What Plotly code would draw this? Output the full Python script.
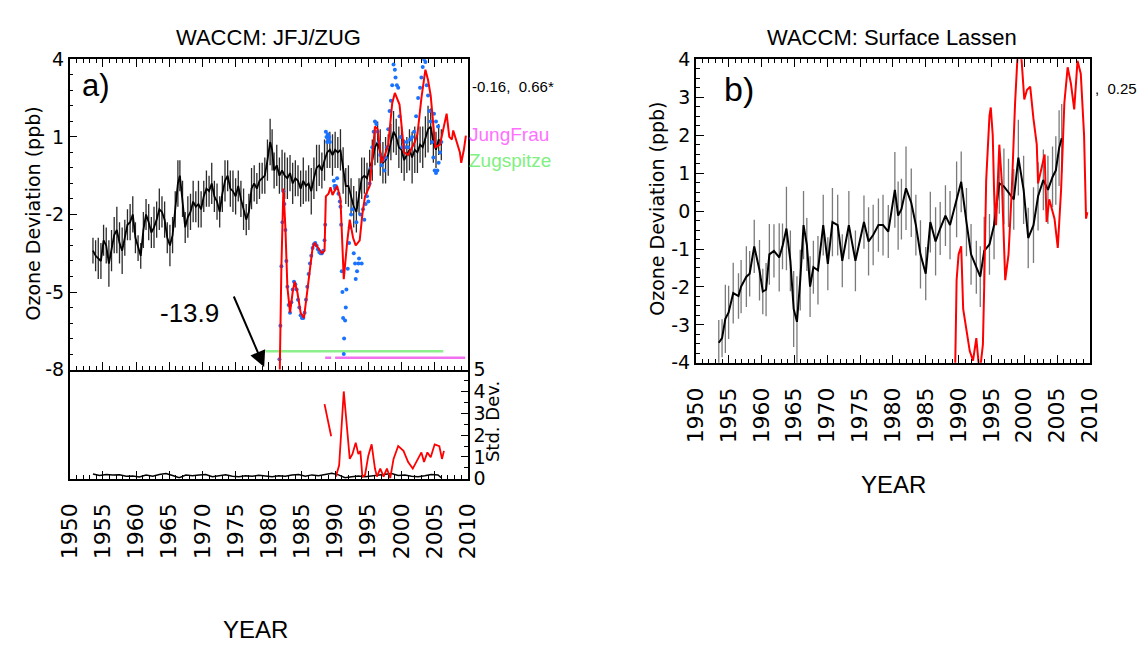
import plotly.graph_objects as go

# ---------------- data: panel a (JFJ/ZUG) ----------------
a_year = [1953.5, 1953.9, 1954.3, 1954.7, 1955.1, 1955.5, 1955.9, 1956.3, 1956.7, 1957.1, 1957.5, 1957.9,
          1958.3, 1958.7, 1959.1, 1959.5, 1959.9, 1960.3, 1960.7, 1961.1, 1961.5, 1961.9, 1962.3, 1962.7,
          1963.1, 1963.5, 1963.9, 1964.3, 1964.7, 1965.1, 1965.5, 1965.9, 1966.3, 1966.6, 1967.0, 1967.4,
          1967.8, 1968.2, 1968.6, 1969.0, 1969.4, 1969.8, 1970.2, 1970.6, 1971.0, 1971.4, 1971.8, 1972.2,
          1972.6, 1973.0, 1973.4, 1973.8, 1974.2, 1974.6, 1975.0, 1975.4, 1975.8, 1976.2, 1976.6, 1977.0,
          1977.4, 1977.8, 1978.2, 1978.6, 1979.0, 1979.4, 1979.8, 1980.2, 1980.5, 1980.8, 1981.2, 1981.6,
          1982.0, 1982.4, 1982.8, 1983.2, 1983.6, 1984.0, 1984.4, 1984.8, 1985.2, 1985.6, 1986.0, 1986.4,
          1986.8, 1987.2, 1987.6, 1988.0, 1988.4, 1988.8, 1989.2, 1989.6, 1990.0, 1990.4, 1990.8, 1991.2,
          1991.6, 1992.0, 1992.4, 1992.8, 1993.2, 1993.6, 1994.0, 1994.4, 1994.8, 1995.2, 1995.6, 1996.0,
          1996.4, 1996.8, 1997.2, 1997.6, 1998.0, 1998.4, 1998.8, 1999.2, 1999.6, 2000.0, 2000.4, 2000.8,
          2001.2, 2001.6, 2002.0, 2002.4, 2002.8, 2003.2, 2003.6, 2004.0, 2004.4, 2004.8, 2005.2, 2005.6, 2006.0]
a_model = [-3.4, -3.6, -3.7, -3.8, -3.0, -3.2, -3.9, -3.4, -2.8, -2.6, -3.1, -3.4,
           -2.9, -2.4, -2.3, -2.0, -2.9, -3.3, -3.6, -2.6, -2.0, -2.3, -2.7, -2.5,
           -2.2, -1.8, -1.9, -2.2, -2.9, -3.2, -2.8, -1.8, -0.8, -0.5, -1.4, -2.5,
           -2.1, -1.9, -1.5, -1.7, -1.6, -1.8, -1.3, -1.0, -1.1, -0.8, -1.3, -1.5,
           -1.9, -1.2, -0.7, -0.5, -1.0, -1.1, -1.3, -0.9, -1.4, -1.8, -2.2, -1.9,
           -1.0, -0.8, -1.0, -0.7, -0.6, -0.5, 0.1, 0.8, 0.5, -0.3, -0.1, -0.5,
           -0.3, -0.5, -0.6, -0.4, -0.8, -0.6, -0.7, -1.0, -0.7, -0.9, -0.8, -1.1,
           -0.6, -0.2, -0.1, -0.3, 0.1, 0.4, 0.5, 0.3, 0.5, 0.4, 0.5, -0.3,
           -0.9, -0.9, -1.3, -1.7, -1.9, -1.3, -0.6, -0.5, -0.6, -0.2, 0.1, 0.6,
           0.8, 0.4, 0.0, 0.1, 0.3, 0.8, 1.2, 1.0, 0.6, 0.5, 0.1, 0.3,
           0.5, 0.2, 0.5, 0.4, 0.7, 0.6, 1.0, 1.3, 1.4, 0.8, 0.5, 0.9, 0.7]
a_err = [0.5, 0.6, 0.8, 0.7, 0.6, 0.7, 0.9, 0.8, 0.7, 0.9, 0.8, 0.9,
         0.7, 0.6, 0.7, 0.7, 0.6, 0.5, 0.5, 0.7, 0.6, 0.7, 0.6, 0.8,
         0.7, 0.8, 0.6, 0.7, 0.6, 0.8, 0.7, 0.7, 0.9, 0.6, 0.7, 0.6,
         0.8, 0.7, 0.8, 0.6, 0.9, 0.7, 0.6, 0.7, 0.6, 0.8, 0.6, 0.7,
         0.6, 0.7, 0.8, 0.6, 0.7, 0.8, 0.7, 0.6, 0.7, 0.8, 0.6, 0.7,
         0.8, 0.7, 0.6, 0.7, 0.6, 0.7, 0.8, 0.9, 0.8, 0.7, 0.8, 0.7,
         0.8, 0.9, 0.8, 0.7, 0.8, 0.7, 0.6, 0.7, 0.9, 0.6, 0.7, 0.9,
         0.8, 0.9, 0.8, 0.7, 0.8, 0.6, 0.7, 0.8, 0.7, 0.6, 0.8, 0.9,
         0.7, 0.8, 0.7, 0.8, 0.8, 0.7, 0.8, 0.7, 0.6, 0.7, 0.8, 0.7,
         0.8, 0.9, 0.8, 0.9, 0.8, 0.7, 0.8, 0.7, 0.8, 0.9, 0.8, 0.7,
         0.8, 1.0, 0.9, 0.8, 0.7, 0.8, 0.8, 0.9, 0.7, 0.8, 0.7, 0.6, 0.6]

a_obs_year = [1981.3, 1981.7, 1981.9, 1982.2, 1982.5, 1982.8, 1983.2, 1983.6, 1983.9, 1984.3, 1984.8,
              1985.3, 1985.7, 1986.2, 1986.6, 1986.9, 1987.4, 1988.0, 1988.4, 1988.6, 1989.0, 1989.3,
              1989.6, 1990.3, 1990.8, 1991.3, 1991.8, 1992.2, 1992.7, 1993.1, 1993.7, 1994.1, 1994.5,
              1995.2, 1995.6, 1996.0, 1996.4, 1997.0, 1997.5, 1998.0, 1998.6, 1999.0, 1999.7, 2000.4,
              2001.0, 2001.4, 2002.0, 2002.4, 2003.0, 2003.6, 2004.0, 2004.4, 2005.1, 2005.8, 2006.3,
              2006.8, 2007.2, 2007.6, 2007.8, 2008.3, 2008.8, 2009.0, 2009.4, 2009.7]
a_obs = [-13.9, -7.0, -4.0, -1.0, -2.5, -4.8, -5.8, -5.0, -4.6, -5.0, -5.8,
         -6.0, -5.2, -4.0, -3.3, -3.1, -3.3, -3.5, -3.4, -1.3, -1.2, -0.95,
         -1.25, -0.9, -1.4, -4.5, -3.1, -2.2, -2.9, -3.2, -3.0, -2.0, -1.3,
         -0.9, 0.2, 1.4, 1.3, 0.0, 0.3, 0.7, 2.3, 2.7, 2.25, 0.4,
         0.3, 0.5, 0.8, 1.1, 2.5, 3.6, 3.2, 2.6, 0.6, 0.7, 1.3,
         1.9, 1.0, 0.9, 1.25, 0.8, 0.4, 0.0, 0.5, 1.05]

a_dot_year = [1981.6, 1981.75, 1981.9, 1982.05, 1982.2, 1982.35, 1982.5, 1982.65, 1982.8, 1983.0, 1983.2,
              1983.4, 1983.6, 1983.8, 1984.0, 1984.2, 1984.4, 1984.6, 1984.8, 1985.0, 1985.2, 1985.4,
              1985.6, 1985.8, 1986.0, 1986.2, 1986.4, 1986.6, 1986.8, 1987.0, 1987.2, 1987.4, 1987.6,
              1987.8, 1988.0, 1988.2, 1988.4, 1988.5, 1988.6, 1988.7, 1988.8, 1988.9, 1989.0, 1989.1,
              1989.2, 1989.8, 1989.9, 1990.0, 1990.1, 1990.3, 1990.5, 1990.7, 1990.8, 1990.9, 1991.0,
              1991.1, 1991.2, 1991.3, 1991.35, 1991.5, 1991.6, 1991.7, 1991.9, 1992.1, 1992.2, 1992.4,
              1992.6, 1992.8, 1993.0, 1993.1, 1993.2, 1993.3, 1993.5, 1993.6, 1993.8, 1994.0, 1994.2,
              1994.4, 1994.6, 1994.8, 1995.0, 1995.2, 1995.4, 1995.6, 1995.8, 1996.0, 1996.2, 1996.4,
              1996.6, 1996.8, 1997.0, 1997.2, 1997.4, 1997.6, 1997.8, 1998.0, 1998.2, 1998.4, 1998.6,
              1998.8, 1999.0, 1999.1, 1999.3, 1999.5, 1999.7, 1999.9, 2000.1, 2000.3, 2000.5, 2000.8,
              2001.0, 2001.3, 2001.6, 2001.9, 2002.2, 2002.5, 2002.8, 2003.0, 2003.2, 2003.4, 2003.6,
              2003.8, 2004.0, 2004.2, 2004.4, 2004.6, 2004.8, 2005.0, 2005.2, 2005.4, 2005.6, 2005.8,
              2006.0, 2004.9, 2005.2, 2005.5]
a_dot = [-7.6, -6.3, -4.0, -2.3, -1.1, -1.6, -2.6, -3.8, -4.8, -5.5, -5.8,
         -5.4, -4.9, -4.6, -4.7, -4.9, -5.3, -5.6, -5.9, -6.0, -6.0, -5.8,
         -5.3, -4.8, -4.3, -3.9, -3.6, -3.3, -3.15, -3.1, -3.2, -3.35, -3.45,
         -3.5, -3.5, -3.4, -3.0, -2.4, 1.2, 1.0, 0.8, 1.1, 0.9, 1.0,
         0.8, -0.7, -0.9, -1.0, -0.9, -0.6, -1.2, -1.5, -1.7, -2.4, -4.2,
         -5.0, -6.0, -7.4, -6.8, -6.1, -5.6, -4.9, -4.1, -3.1, -2.5, -2.0,
         -1.8, -3.5, -3.9, -4.5, -2.3, -4.2, -3.9, -3.7, -2.0, -3.9, -1.8,
         -2.2, -1.6, -1.3, -1.5, -0.8, -0.2, 0.6, 1.2, 1.6, 1.5, 1.2,
         0.8, 0.3, -0.1, 0.1, -0.3, 0.2, 0.6, 1.3, 2.0, 2.4, 3.0,
         3.8, 3.6, 3.3, 3.0, 2.9, 1.8, 1.0, 0.6, 0.8, 0.6, 0.8,
         0.6, 0.9, 1.0, 1.2, 1.8, 2.5, 2.9, 3.3, 3.7, 4.0, 3.9,
         3.0, 2.6, 2.0, 1.6, 0.8, 0.2, -0.3, -0.4, -0.3, 0.0, 0.4,
         0.8, 1.9, 1.6, 1.4]

# station availability lines
jung_seg_years = [1988.5, 1989.4, None, 1990.0, 2009.6]
jung_seg_vals = [-7.54, -7.54, None, -7.54, -7.54]
zug_seg_years = [1979.5, 2006.3]
zug_seg_vals = [-7.29, -7.29]

# std-dev panel
sd_model_year = [1953.5, 1954.5, 1955.5, 1956.5, 1957.5, 1958.5, 1959.5, 1960.5, 1961.5, 1962.5, 1963.5,
                 1964.5, 1965.5, 1966.5, 1967.5, 1968.5, 1969.5, 1970.5, 1971.5, 1972.5, 1973.5, 1974.5,
                 1975.5, 1976.5, 1977.5, 1978.5, 1979.5, 1980.5, 1981.5, 1982.5, 1983.5, 1984.5, 1985.5,
                 1986.5, 1987.5, 1988.5, 1989.5, 1990.5, 1991.5, 1992.5, 1993.5, 1994.5, 1995.5, 1996.5,
                 1997.5, 1998.5, 1999.5, 2000.5, 2001.5, 2002.5, 2003.5, 2004.5, 2005.5, 2006.0]
sd_model = [0.22, 0.15, 0.2, 0.17, 0.19, 0.12, 0.13, 0.08, 0.17, 0.12, 0.2,
            0.24, 0.15, 0.05, 0.17, 0.14, 0.17, 0.2, 0.1, 0.16, 0.19, 0.12,
            0.1, 0.14, 0.12, 0.16, 0.13, 0.1, 0.14, 0.12, 0.17, 0.2, 0.12,
            0.18, 0.14, 0.2, 0.25, 0.18, 0.05, 0.1, 0.13, 0.1, 0.14, 0.18,
            0.2, 0.24, 0.15, 0.17, 0.12, 0.1, 0.14, 0.2, 0.18, 0.05]
sd_obs_year = [1988.4, 1988.9, 1989.4, None, 1990.1, 1990.6, 1991.3, 1991.6, 1991.9, 1992.2, 1992.6,
               1993.1, 1993.5, 1993.8, 1994.1, 1994.5, 1995.0, 1995.5, 1996.0, 1996.3, 1996.8,
               1997.3, 1997.8, 1998.3, 1998.8, 1999.5, 2000.3, 2001.0, 2001.7, 2002.2, 2003.0,
               2003.4, 2003.9, 2004.4, 2005.0, 2005.7, 2006.1, 2006.4]
sd_obs = [3.42, 2.76, 1.95, None, 0.1, 0.62, 4.0, 2.98, 2.24, 0.91, 1.13,
          1.65, 1.13, 1.28, 0.1, 0.17, 1.06, 1.58, 0.47, 0.1, 0.47,
          0.1, 0.47, 0.03, 0.91, 1.5, 1.28, 0.77, 0.47, 0.77, 1.21,
          0.77, 1.21, 0.99, 1.58, 1.5, 0.91, 1.28]

# ---------------- data: panel b (Surface Lassen) ----------------
b_year = [1953.5, 1954.0, 1954.5, 1955.0, 1955.7, 1956.5, 1956.9, 1957.7, 1958.2, 1958.9, 1959.7, 1960.2,
          1960.7, 1961.2, 1961.9, 1962.7, 1963.2, 1963.8, 1964.4, 1964.9, 1965.4, 1965.9, 1966.4, 1966.9,
          1967.4, 1967.9, 1968.6, 1969.4, 1970.1, 1970.8, 1971.6, 1972.3, 1973.3, 1974.3, 1975.6, 1976.3,
          1977.0, 1977.8, 1978.5, 1979.3, 1980.3, 1980.8, 1981.3, 1982.0, 1982.8, 1983.5, 1984.2, 1985.0,
          1985.7, 1986.5, 1987.2, 1988.0, 1988.7, 1989.7, 1990.4, 1991.2, 1991.9, 1992.7, 1993.3, 1993.9,
          1994.7, 1995.4, 1996.2, 1996.9, 1997.6, 1998.4, 1999.1, 1999.9, 2000.6, 2001.4, 2002.1, 2002.9,
          2003.6, 2004.3, 2004.8, 2005.3, 2005.7]
b_model = [-3.47, -3.35, -2.84, -2.67, -2.16, -2.24, -1.99, -1.73, -1.65, -0.93, -1.56, -2.12,
           -2.07, -1.14, -1.05, -1.22, -0.93, -0.46, -1.31, -2.58, -2.92, -1.82, -0.37, -0.88,
           -1.99, -1.48, -1.56, -0.37, -1.39, -0.29, -0.37, -1.31, -0.37, -1.31, -0.29, -0.8,
           -0.63, -0.37, -0.37, -0.54, 0.56, -0.12, 0.05, 0.6, 0.22, -0.37, -1.14, -1.65,
           -0.29, -0.8, -0.46, -0.12, -0.37, 0.31, 0.77, -0.29, -1.14, -1.48, -1.73, -1.05,
           -0.88, -0.37, 0.73, 0.65, 0.48, 0.31, 1.41, 0.56, -0.71, -0.37, 0.39, 0.82,
           0.56, 0.9, 1.07, 1.66, 1.92]
b_err = [0.6, 0.5, 0.9, 0.7, 0.8, 0.6, 0.7, 0.8, 0.6, 0.7, 0.8, 0.6,
         0.7, 0.8, 0.7, 0.9, 0.6, 1.1, 0.8, 1.0, 1.2, 0.8, 0.9, 0.7,
         0.8, 0.7, 0.9, 0.8, 0.7, 0.9, 0.8, 0.7, 0.9, 0.8, 0.7, 0.9,
         0.8, 0.7, 0.8, 0.7, 1.0, 0.9, 0.8, 1.1, 0.9, 0.8, 0.9, 0.7,
         0.8, 0.9, 0.7, 0.8, 0.9, 1.0, 0.8, 0.9, 0.8, 0.7, 0.8, 0.9,
         0.8, 0.9, 0.8, 1.0, 0.9, 0.8, 1.0, 0.9, 0.8, 1.0, 0.9, 0.8,
         0.9, 0.8, 0.9, 1.0, 0.9]

b_obs_year = [1989.45, 1989.7, 1990.0, 1990.4, 1990.7, 1991.2, 1991.7, 1992.2, 1992.7, 1993.2, 1993.7,
              1993.9, 1994.2, 1994.7, 1994.9, 1995.2, 1995.4, 1995.7, 1996.2, 1996.6, 1997.1, 1997.6,
              1998.1, 1998.6, 1999.1, 1999.6, 2000.0, 2000.4, 2000.9, 2001.4, 2001.9, 2002.1, 2002.6,
              2003.1, 2003.4, 2003.8, 2004.6, 2005.1, 2005.6, 2006.1, 2006.6, 2007.1, 2007.6, 2008.1,
              2008.6, 2009.1, 2009.4, 2009.6]
b_obs = [-4.5, -1.82, -1.14, -0.93, -2.58, -3.09, -3.69, -3.94, -3.35, -4.3, -3.52,
         -1.99, 0.81, 2.51, 2.73, 2.0, 0.56, -0.37, 1.75, 0.73, -1.82, -1.14,
         0.56, 2.85, 4.5, 3.96, 2.94, 3.19, 3.28, 2.43, 1.75, 0.73, 1.15,
         1.49, -0.29, 0.31, -0.2, -0.97, 0.56, 2.85, 3.79, 3.36, 2.68, 3.96,
         3.62, 2.0, -0.2, -0.03]

year_ticks = [1950, 1955, 1960, 1965, 1970, 1975, 1980, 1985, 1990, 1995, 2000, 2005, 2010]
a_yticks = [-8, -5, -2, 1, 4]
b_yticks = [-4, -3, -2, -1, 0, 1, 2, 3, 4]
sd_ticks = [0, 1, 2, 3, 4, 5]

# ---------------- figure ----------------
W, H = 1146, 658
def fx(p):
    return p / W
def fy(p):
    return 1 - p / H

TICKFONT = "DejaVu Sans"
SANS = "Liberation Sans, Arial"

fig = go.Figure()

# panel a top
fig.add_trace(go.Scatter(x=zug_seg_years, y=zug_seg_vals, mode="lines",
                         line=dict(color="#8cf08c", width=2.5), xaxis="x", yaxis="y", showlegend=False))
fig.add_trace(go.Scatter(x=jung_seg_years, y=jung_seg_vals, mode="lines",
                         line=dict(color="#f070f0", width=2.5), xaxis="x", yaxis="y", showlegend=False))
fig.add_trace(go.Scatter(x=a_year, y=a_model, mode="lines", line=dict(color="black", width=1.8),
                         error_y=dict(type="data", array=a_err, visible=True, color="#2a2a2a",
                                      thickness=1.3, width=0),
                         xaxis="x", yaxis="y", showlegend=False))
fig.add_trace(go.Scatter(x=a_dot_year, y=a_dot, mode="markers",
                         marker=dict(color="#1a73ff", size=4, symbol="circle"),
                         xaxis="x", yaxis="y", showlegend=False))
fig.add_trace(go.Scatter(x=a_obs_year, y=a_obs, mode="lines", line=dict(color="#ff0000", width=2),
                         xaxis="x", yaxis="y", showlegend=False))

# panel a bottom (std dev)
fig.add_trace(go.Scatter(x=sd_model_year, y=sd_model, mode="lines", line=dict(color="black", width=1.5),
                         xaxis="x2", yaxis="y2", showlegend=False))
fig.add_trace(go.Scatter(x=sd_obs_year, y=sd_obs, mode="lines", line=dict(color="#ff0000", width=1.8),
                         connectgaps=False, xaxis="x2", yaxis="y2", showlegend=False))

# panel b
fig.add_trace(go.Scatter(x=b_year, y=b_model, mode="lines", line=dict(color="black", width=2),
                         error_y=dict(type="data", array=b_err, visible=True, color="#7a7a7a",
                                      thickness=1.3, width=0),
                         xaxis="x3", yaxis="y3", showlegend=False))
fig.add_trace(go.Scatter(x=b_obs_year, y=b_obs, mode="lines", line=dict(color="#ff0000", width=2),
                         xaxis="x3", yaxis="y3", showlegend=False))

axline = dict(showline=True, linecolor="black", linewidth=1.5, showgrid=False, zeroline=False)
xcommon = dict(range=[1950, 2010], tickvals=year_ticks, ticks="inside", ticklen=8, tickwidth=1.2,
               tickcolor="black", minor=dict(dtick=1, tick0=1950, ticks="inside", ticklen=4,
                                             tickcolor="black", tickwidth=1),
               **axline)

def lab(vals):
    return [str(v) for v in vals]

fig.update_layout(
    width=W, height=H, margin=dict(l=0, r=0, t=0, b=0),
    paper_bgcolor="white", plot_bgcolor="white",
    xaxis=dict(domain=[fx(58), fx(465)], anchor="y", showticklabels=False, mirror="ticks", **xcommon),
    yaxis=dict(domain=[fy(371), fy(50)], anchor="x", range=[-8, 4], tickvals=a_yticks,
               ticktext=lab(a_yticks),
               ticks="inside", ticklen=8, tickcolor="black", tickwidth=1.2,
               minor=dict(dtick=0.6, tick0=-8, ticks="inside", ticklen=4, tickcolor="black"),
               mirror=True, tickfont=dict(family=TICKFONT, size=19, color="black"), **axline),
    xaxis2=dict(domain=[fx(58), fx(465)], anchor="y2", tickangle=-90, ticklabelstandoff=14,
                tickfont=dict(family=TICKFONT, size=22, color="black"), **xcommon),
    yaxis2=dict(domain=[fy(484), fy(371)], anchor="x2", side="right", range=[0, 5], tickvals=sd_ticks,
                ticks="inside", ticklen=7, tickcolor="black",
                minor=dict(dtick=0.5, ticks="inside", ticklen=4, tickcolor="black"),
                mirror=True, tickfont=dict(family=TICKFONT, size=19, color="black"), **axline),
    xaxis3=dict(domain=[fx(698), fx(1101)], anchor="y3", tickangle=-90, mirror="ticks",
                ticklabelstandoff=14,
                tickfont=dict(family=TICKFONT, size=22, color="black"), **xcommon),
    yaxis3=dict(domain=[fy(364), fy(50)], anchor="x3", range=[-4, 4], tickvals=b_yticks,
                ticktext=lab(b_yticks),
                ticks="inside", ticklen=8, tickcolor="black", tickwidth=1.2,
                minor=dict(dtick=0.25, ticks="inside", ticklen=4, tickcolor="black"),
                mirror=True, tickfont=dict(family=TICKFONT, size=19, color="black"), **axline),
)

def txt(x, y, s, size, color="black", family=SANS, angle=0, xanchor="center", yanchor="middle"):
    fig.add_annotation(x=fx(x), y=fy(y), xref="paper", yref="paper", text=s, showarrow=False,
                       textangle=angle, xanchor=xanchor, yanchor=yanchor, borderpad=0,
                       font=dict(family=family, size=size, color=color))

txt(261, 27, "WACCM: JFJ/ZUG", 22)
txt(899, 27, "WACCM: Surface Lassen", 22)
txt(248, 640, "YEAR", 24)
txt(900, 490, "YEAR", 24)
txt(20, 210, "Ozone Deviation (ppb)", 19, family="DejaVu Sans", angle=-90)
txt(659, 205, "Ozone Deviation (ppb)", 19, family="DejaVu Sans", angle=-90)
txt(491, 425, "Std. Dev.", 18, family="DejaVu Sans", angle=-90)
txt(85, 77, "a)", 31)
txt(742, 81, "b)", 34)
txt(468, 78, "-0.16,  0.66*", 15, xanchor="left")
txt(1105, 80, ",  0.25", 15, xanchor="left")
txt(465, 128, "JungFrau", 19, color="#ff70ff", xanchor="left")
txt(465, 155, "Zugspitze", 19, color="#80f080", xanchor="left")
txt(180, 312, "-13.9", 26)

# arrow pointing to the off-scale start of the observations
fig.add_annotation(x=1979.3, y=-7.9, xref="x", yref="y", text="", showarrow=True,
                   ax=-31, ay=-72, arrowhead=2, arrowsize=1.6, arrowwidth=2, arrowcolor="black")

fig.write_html("out.html")
